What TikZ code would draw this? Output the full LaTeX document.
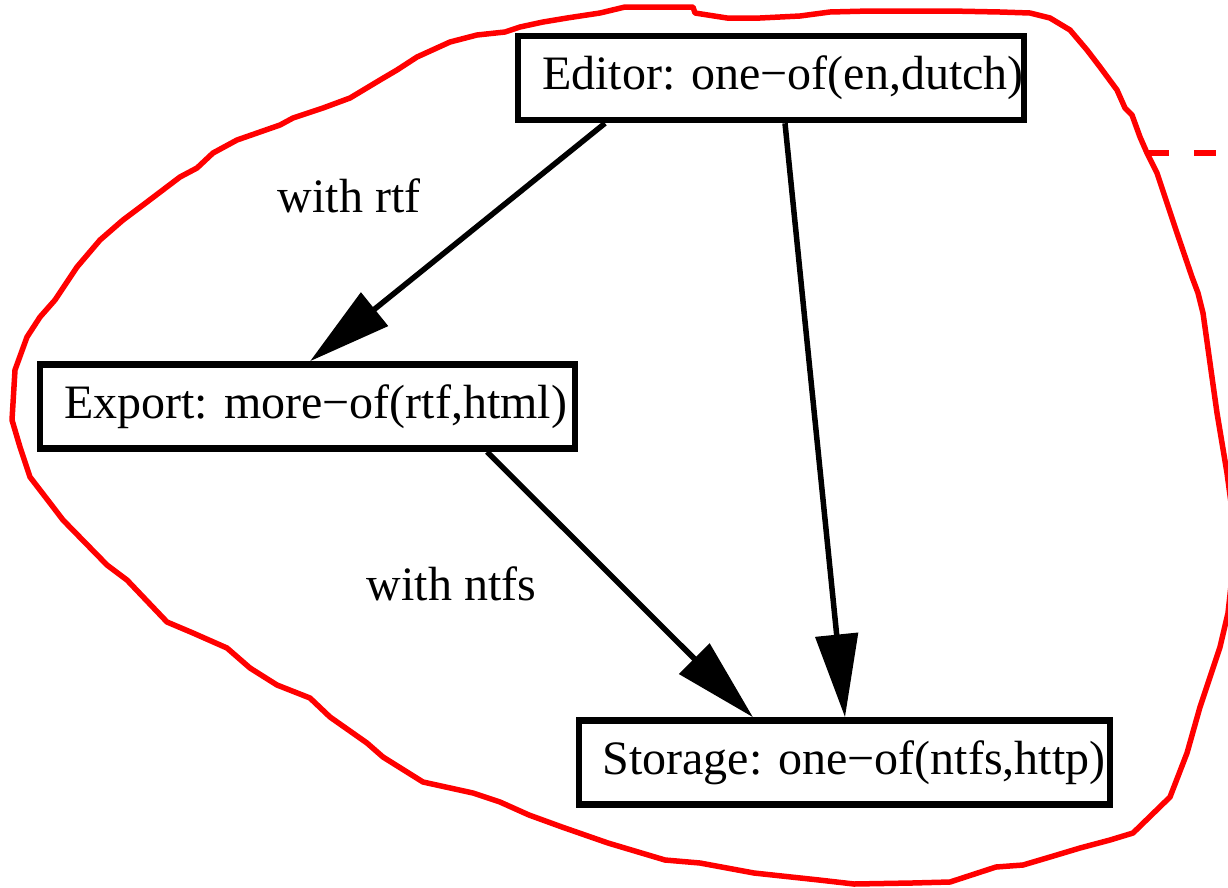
\documentclass[tikz,border=0pt]{standalone}
\usepackage{fontspec}
\setmainfont{Liberation Serif}
\usetikzlibrary{arrows.meta}

\tikzset{
  feature/.style={draw=black, line width=6.5pt, rectangle, inner sep=0pt,
    minimum height=84pt, font=\fontsize{48}{57}\selectfont},
  edgelabel/.style={inner sep=0pt, anchor=base, font=\fontsize{48}{57}\selectfont},
  dep/.style={draw=black, line width=5.5pt,
    -{Triangle[length=83pt,width=42pt]}},
  cluster/.style={draw=red, line width=5.5pt, line join=round},
  outlink/.style={draw=red, line width=6pt, dash pattern=on 22pt off 25pt}
}

\begin{document}
\begin{tikzpicture}[x=1pt, y=-1pt]
  \useasboundingbox (0,0) rectangle (1228,887);

  % cluster outline around the three features
  \draw[cluster]
    (625,7) -- (693,7) -- (695,13) -- (727,18) -- (760,18) -- (800,16) -- (830,12)
    -- (870,11) -- (950,11) -- (1000,12) -- (1030,13) -- (1050,18) -- (1070,30)
    -- (1087,50) -- (1100,67) -- (1117,90) -- (1125,108) -- (1132,115) -- (1140,137)
    -- (1147,153) -- (1157,173) -- (1167,203) -- (1177,233) -- (1192,277) -- (1198,293)
    -- (1203,313) -- (1210,363) -- (1217,413) -- (1227,473) -- (1236,540) -- (1228,613)
    -- (1220,647) -- (1200,707) -- (1187,753) -- (1170,797) -- (1133,833) -- (1110,840)
    -- (1080,848) -- (1050,857) -- (1023,865) -- (996,867) -- (950,882) -- (912,883)
    -- (854,884) -- (819,880) -- (754,873) -- (700,863) -- (665,860) -- (608,843)
    -- (562,827) -- (529,815) -- (500,802) -- (473,793) -- (423,782) -- (383,757)
    -- (367,743) -- (330,717) -- (310,698) -- (277,685) -- (250,668) -- (227,648)
    -- (193,633) -- (167,622) -- (127,580) -- (107,565) -- (63,520) -- (50,503)
    -- (30,477) -- (20,447) -- (12,420) -- (15,370) -- (27,337) -- (40,317)
    -- (55,300) -- (77,267) -- (100,240) -- (123,220) -- (147,202) -- (180,177)
    -- (197,168) -- (213,153) -- (237,140) -- (280,125) -- (293,118) -- (323,108)
    -- (350,98) -- (380,80) -- (397,70) -- (417,57) -- (450,42) -- (477,35)
    -- (505,32) -- (520,27) -- (543,22) -- (567,18) -- (600,13) -- cycle;

  % link leaving the cluster to the right
  \coordinate (exit) at (1147,153);
  \coordinate (beyond) at (1228,153);
  \draw[outlink] (exit) -- (beyond);

  % features
  \node[feature, minimum width=502pt] (editor) at (771,78)
    {\kern24pt Editor: one−of(en,dutch)};
  \node[feature, minimum width=535pt] (export) at (307.5,406.5)
    {\kern16pt Export: more−of(rtf,html)};
  \node[feature, minimum width=531pt] (storage) at (844.5,762.5)
    {\kern19pt Storage: one−of(ntfs,http)};

  % edge labels
  \node[edgelabel] (lrtf) at (349,212) {with rtf};
  \node[edgelabel] (lntfs) at (451.5,600) {with ntfs};

  % dependencies
  \draw[dep] ([xshift=-166pt]editor.south) -- ([xshift=2.5pt]export.north);
  \draw[dep] ([xshift=14pt]editor.south) -- ([xshift=0.5pt]storage.north);
  \draw[dep] ([xshift=179.5pt]export.south) -- ([xshift=-91.5pt]storage.north);
\end{tikzpicture}
\end{document}
